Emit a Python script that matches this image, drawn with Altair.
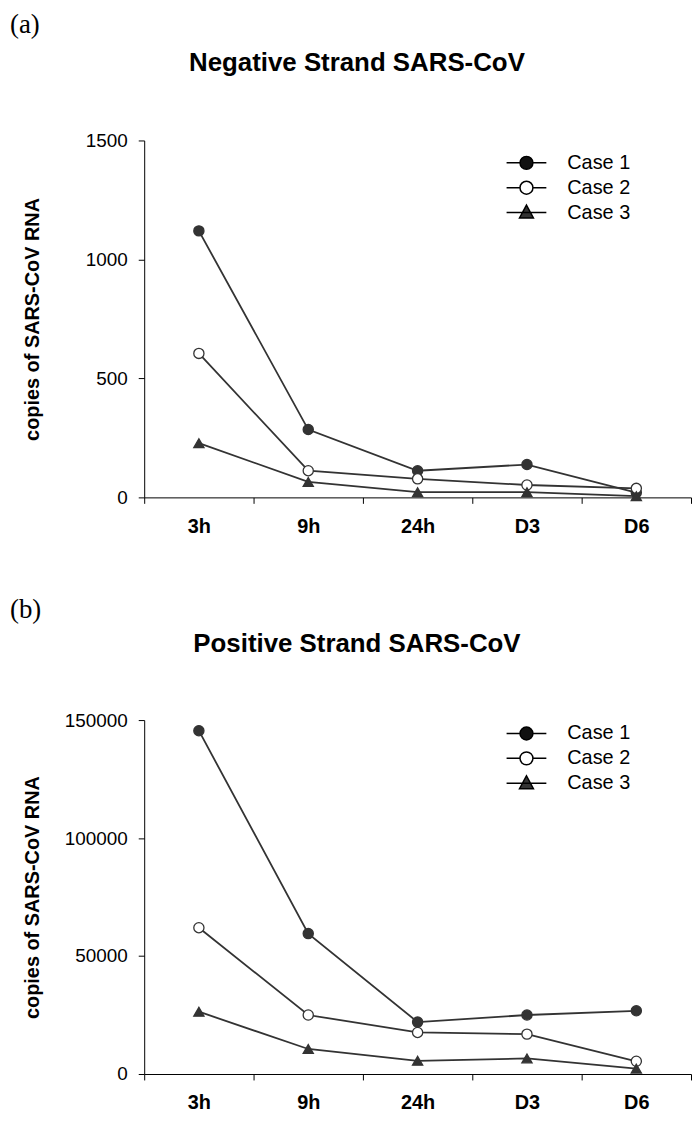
import altair as alt
import pandas as pd

# ---------------- data ----------------
timepoints = ["3h", "9h", "24h", "D3", "D6"]
cases = ["Case 1", "Case 2", "Case 3"]

neg_case1 = [1120, 285, 112, 138, 20]
neg_case2 = [605, 112, 78, 52, 38]
neg_case3 = [228, 65, 22, 22, 5]

pos_case1 = [145500, 59500, 22000, 25000, 26800]
pos_case2 = [62000, 25000, 17600, 16900, 5400]
pos_case3 = [26400, 10600, 5600, 6600, 2300]

neg_ticks = [0, 500, 1000, 1500]
pos_ticks = [0, 50000, 100000, 150000]

panel_labels = ["(a)", "(b)"]
panel_titles = ["Negative Strand SARS-CoV", "Positive Strand SARS-CoV"]
y_title = "copies of SARS-CoV RNA"

# marker style per case (shape, fill)
case_shapes = ["circle", "circle", "triangle-up"]
case_fills = ["#333333", "white", "#333333"]


def to_long(series):
    rows = []
    for case, vals in zip(cases, series):
        for i, (t, v) in enumerate(zip(timepoints, vals)):
            rows.append({"time": t, "idx": i, "case": case, "copies": v})
    return pd.DataFrame(rows)


SANS = "Liberation Sans"
SERIF = "Liberation Serif"
DARK = "#333333"

LEG_CIRCLE = "M-1.6,0H-0.52M0.52,0H1.6M-0.52,0A0.52,0.52 0 1,1 0.52,0A0.52,0.52 0 1,1 -0.52,0Z"
LEG_TRI = "M-1.6,0H1.6M0,-0.6L0.56,0.44H-0.56Z"


def panel(df, ticks, label, title, height, legend_y, label_y, title_y):
    x = alt.X(
        "time:N", sort=timepoints,
        scale=alt.Scale(domain=timepoints, paddingInner=0, paddingOuter=0),
        axis=alt.Axis(title=None, labelAngle=0, labelFont=SANS, labelFontSize=20,
                      labelFontWeight="bold", labelColor="black", tickBand="extent",
                      tickSize=6, labelPadding=13, domainColor="black", tickColor="black",
                      grid=False),
    )
    y = alt.Y(
        "copies:Q",
        scale=alt.Scale(domain=[ticks[0], ticks[-1]], nice=False),
        axis=alt.Axis(title=y_title, values=ticks, format="d", grid=False,
                      labelFont=SANS, labelFontSize=19, labelColor="black",
                      tickSize=6, labelPadding=11, domainColor="black", tickColor="black",
                      titleFont=SANS, titleFontSize=20, titleFontWeight="bold",
                      titleColor="black", titleX=-112, titleBaseline="middle"),
    )
    leg = alt.Legend(title=None, orient="none", legendX=371, legendY=legend_y,
                     symbolSize=625, symbolStrokeColor="black", symbolStrokeWidth=1.5,
                     symbolOpacity=1,
                     labelFont=SANS, labelFontSize=20, labelColor="black",
                     labelOffset=27.5, rowPadding=1, padding=0)
    base = alt.Chart(df)
    lines = base.mark_line(color=DARK, strokeWidth=1.8).encode(
        x=x, y=y, detail="case:N", order="idx:Q")
    pts_layers = []
    for c, shp, fil in zip(cases, case_shapes, case_fills):
        pts_layers.append(
            base.transform_filter(alt.datum.case == c)
            .mark_point(size=105, strokeWidth=1.3, stroke=DARK, opacity=1,
                        shape=shp, fill=fil, filled=False)
            .encode(x=x, y=y)
        )
    legend_layer = (
        alt.Chart(pd.DataFrame({"case": cases}))
        .transform_filter("datum.case == 'none'")
        .mark_point(size=625, strokeWidth=1.5, opacity=1)
        .encode(
            shape=alt.Shape("case:N", scale=alt.Scale(domain=cases,
                            range=[LEG_CIRCLE, LEG_CIRCLE, LEG_TRI]), legend=leg),
            fill=alt.Fill("case:N", scale=alt.Scale(domain=cases,
                          range=["#111111", "white", "#333333"]), legend=leg),
            stroke=alt.Stroke("case:N", scale=alt.Scale(domain=cases,
                              range=["black", "black", "black"]), legend=leg),
        )
    )
    lab = alt.Chart(pd.DataFrame({"t": [label]})).mark_text(
        font=SERIF, fontSize=27, align="left", baseline="middle", color="black"
    ).encode(text="t:N", x=alt.value(-135), y=alt.value(label_y))
    ttl = alt.Chart(pd.DataFrame({"t": [title]})).mark_text(
        font=SANS, fontSize=26, fontWeight="bold", align="center",
        baseline="middle", color="black"
    ).encode(text="t:N", x=alt.value(359 - 145), y=alt.value(title_y))
    return alt.layer(lines, *pts_layers, legend_layer, lab, ttl).properties(
        width=550, height=height)


top = panel(to_long([neg_case1, neg_case2, neg_case3]), neg_ticks,
            panel_labels[0], panel_titles[0], 359, 9, -116, -78)
bottom = panel(to_long([pos_case1, pos_case2, pos_case3]), pos_ticks,
               panel_labels[1], panel_titles[1], 356, 0, -111, -76)

chart = (
    alt.vconcat(top, bottom, spacing=60)
    .resolve_scale(shape="independent", fill="independent", stroke="independent",
                   y="independent")
    .resolve_legend(shape="independent", fill="independent", stroke="independent")
    .configure_view(stroke=None)
    .properties(padding={"left": 2, "top": 0, "right": 0, "bottom": 0})
)

chart.save("out.html", embed_options={"renderer": "svg", "actions": False})
